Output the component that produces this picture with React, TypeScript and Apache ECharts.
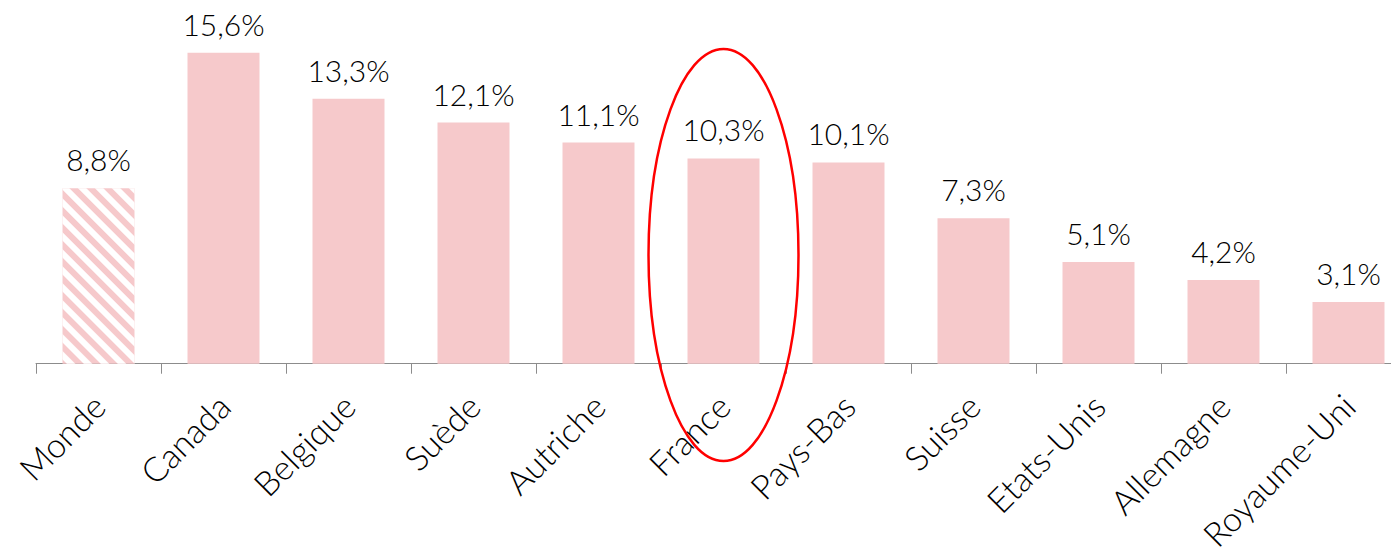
import React, { useEffect, useRef } from "react";
import * as echarts from "echarts";

const categories = ["Monde", "Canada", "Belgique", "Suède", "Autriche", "France", "Pays-Bas", "Suisse", "Etats-Unis", "Allemagne", "Royaume-Uni"];
const values = [8.8, 15.6, 13.3, 12.1, 11.1, 10.3, 10.1, 7.3, 5.1, 4.2, 3.1];
const highlighted = "France";
const hatched = "Monde";

const BAR = "#F6C9CB";
const FONT = "Lato";

export default function App() {
  const ref = useRef<HTMLDivElement>(null);
  useEffect(() => {
    if (!ref.current) return;
    const chart = echarts.init(ref.current, null, { renderer: "svg" });
    chart.setOption({
      animation: false,
      grid: { left: 36, right: 9, top: 5, bottom: 188, containLabel: false },
      xAxis: {
        type: "category",
        data: categories,
        axisLine: { lineStyle: { color: "#8c8c8c", width: 1 } },
        axisTick: { show: true, length: 10, lineStyle: { color: "#8c8c8c" } },
        axisLabel: {
          rotate: 45,
          margin: 36,
          interval: 0,
          color: "#000",
          fontFamily: FONT,
          fontWeight: 300,
          fontSize: 34,
        },
      },
      yAxis: {
        type: "value",
        min: 0,
        max: 18,
        show: false,
        splitLine: { show: false },
      },
      series: [
        {
          type: "bar",
          barWidth: 72,
          data: values.map((v, i) =>
            categories[i] === hatched
              ? {
                  value: v,
                  itemStyle: {
                    color: BAR,
                    decal: {
                      symbol: "rect",
                      symbolSize: 1,
                      dashArrayX: [1, 0],
                      dashArrayY: [6, 6],
                      rotation: Math.PI / 4,
                      color: "#ffffff",
                    },
                  },
                }
              : { value: v }
          ),
          itemStyle: { color: BAR },
          label: {
            show: true,
            position: "top",
            distance: 14,
            color: "#000",
            fontFamily: FONT,
            fontWeight: 300,
            fontSize: 30,
            formatter: (p: any) => p.value.toFixed(1).replace(".", ",") + "%",
          },
        },
      ],
    });
    const cx = chart.convertToPixel({ xAxisIndex: 0 }, highlighted) as number;
    chart.setOption({
      graphic: [
        {
          type: "ellipse",
          shape: { cx, cy: 255, rx: 75, ry: 206 },
          style: { fill: "none", stroke: "#FF0000", lineWidth: 2.5 },
          z: 10,
        },
      ],
    });
    return () => chart.dispose();
  }, []);
  return (
    <div style={{ position: "fixed", left: 0, top: 0, width: 1391, height: 554, overflow: "hidden", background: "#fff" }}>
      <div ref={ref} style={{ width: 1420, height: 554 }} />
    </div>
  );
}
